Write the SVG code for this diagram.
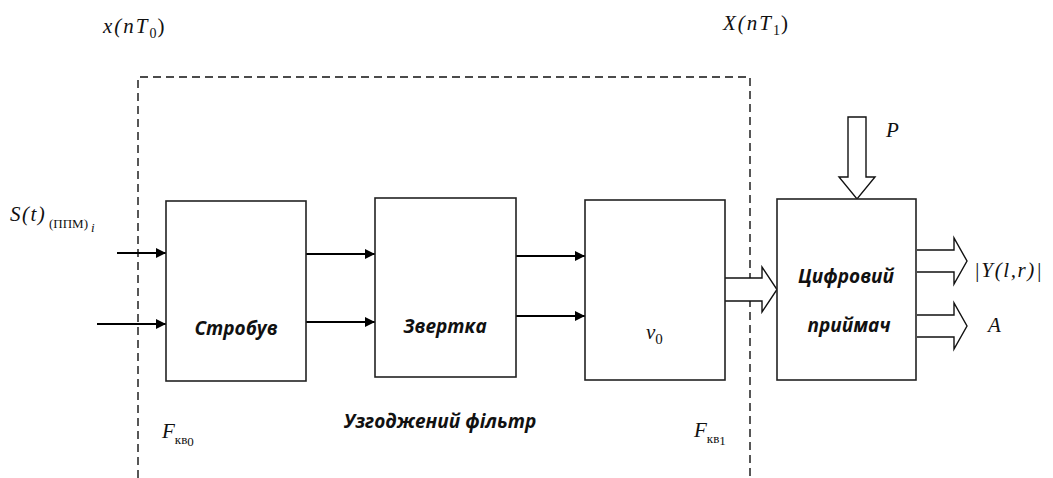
<svg xmlns="http://www.w3.org/2000/svg" width="1053" height="478" viewBox="0 0 1053 478">
<defs>
<style>
.box{fill:#fff;stroke:#222;stroke-width:1.6}
.dash{fill:none;stroke:#111;stroke-width:1.4;stroke-dasharray:8 5}
.line{stroke:#000;stroke-width:2;fill:none}
.hol{fill:#fff;stroke:#111;stroke-width:1.4;stroke-linejoin:miter}
.lbl{font-family:"Open Sans","DejaVu Sans",sans-serif;font-weight:bold;font-style:italic;font-size:19px;fill:#111;text-anchor:middle}
.m{font-family:"Liberation Serif","Times New Roman",serif;font-style:italic;font-size:21px;fill:#111}
.r{font-style:normal}
.s{font-family:"Liberation Serif","Times New Roman",serif;font-size:13px;fill:#111}
</style>
<marker id="ah" viewBox="0 0 10 10" refX="10" refY="5" markerWidth="5.5" markerHeight="5" markerUnits="strokeWidth" orient="auto">
<path d="M0,0 L10,5 L0,10 z" fill="#000"/>
</marker>
</defs>

<g id="filter-boundary">
<path class="dash" d="M138,478 L138,77 L750,77 L750,478"/>
</g>

<g id="labels-top">
<text class="m" x="103" y="33" letter-spacing="2">x(nT<tspan class="r" font-size="14" dy="5" letter-spacing="1">0</tspan><tspan class="r" dy="-5">)</tspan></text>
<text class="m" x="723" y="30" letter-spacing="2">X(nT<tspan class="r" font-size="14" dy="5" letter-spacing="1">1</tspan><tspan class="r" dy="-5">)</tspan></text>
</g>

<g id="input-label">
<text class="m" x="10" y="221" font-size="23" letter-spacing="1.5">S(t)</text>
<text class="s" x="49" y="228">(ППМ)</text>
<text class="s" x="91" y="232" font-style="italic" font-size="11">i</text>
</g>

<g id="connectors">
<line class="line" x1="117" y1="253" x2="166" y2="253" marker-end="url(#ah)"/>
<line class="line" x1="97" y1="324" x2="166" y2="324" marker-end="url(#ah)"/>
<line class="line" x1="306" y1="254" x2="375" y2="254" marker-end="url(#ah)"/>
<line class="line" x1="306" y1="322" x2="375" y2="322" marker-end="url(#ah)"/>
<line class="line" x1="516" y1="256" x2="585" y2="256" marker-end="url(#ah)"/>
<line class="line" x1="516" y1="316" x2="585" y2="316" marker-end="url(#ah)"/>
<path class="hol" d="M725,278 L762,278 L762,267 L777,289.5 L762,312 L762,301 L725,301"/>
<path class="hol" d="M848,117 L866,117 L866,177 L875,177 L857,199 L839,177 L848,177 Z"/>
<path class="hol" d="M917,250 L954,250 L954,238 L967,261 L954,284 L954,272 L917,272"/>
<path class="hol" d="M917,315 L954,315 L954,303 L967,326 L954,349 L954,337 L917,337"/>
</g>

<g id="node-strobuv">
<rect class="box" x="166" y="201" width="140" height="180"/>
<text class="lbl" x="236" y="335">Стробув</text>
</g>

<g id="node-zvertka">
<rect class="box" x="375" y="198" width="141" height="179"/>
<text class="lbl" x="445" y="333">Звертка</text>
</g>

<g id="node-nu0">
<rect class="box" x="585" y="200" width="140" height="180"/>
<text class="m" x="646" y="339" font-size="22">ν<tspan class="r" font-size="15" dy="5">0</tspan></text>
</g>

<g id="node-receiver">
<rect class="box" x="777" y="199" width="139" height="181"/>
<text class="lbl" x="846" y="283">Цифровий</text>
<text class="lbl" x="849" y="332">приймач</text>
</g>

<g id="labels-other">
<text class="m" x="886" y="137">P</text>
<text class="m" x="974" y="277" letter-spacing="1.6">|Y(l,r)|</text>
<text class="m" x="988" y="332">A</text>
<text class="lbl" x="440" y="428">Узгоджений фільтр</text>
<text class="m" x="162" y="438" font-size="24">F<tspan class="s" font-style="normal" font-size="11" dy="6">кв</tspan><tspan class="s" font-style="normal" font-size="12" dy="2">0</tspan></text>
<text class="m" x="694" y="437" font-size="24">F<tspan class="s" font-style="normal" font-size="11" dy="6">кв</tspan><tspan class="s" font-style="normal" font-size="12" dy="2">1</tspan></text>
</g>
</svg>
